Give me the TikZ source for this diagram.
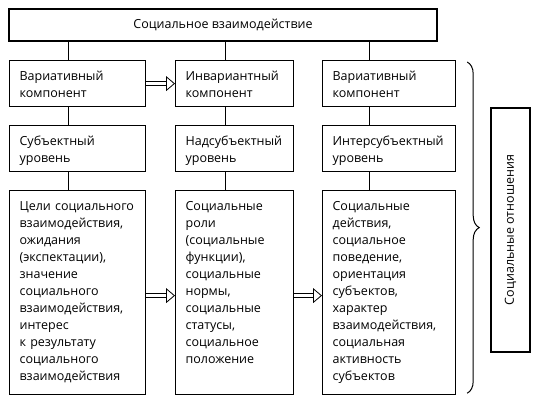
\documentclass[tikz,border=0pt]{standalone}
\usepackage{fontspec}
\setmainfont{Open Sans}
\usetikzlibrary{positioning}
\usetikzlibrary{arrows.meta}
\usetikzlibrary{decorations.pathreplacing}
\tikzset{
  box/.style={rectangle, draw=black, line width=1.2pt, anchor=north west, align=left, inner xsep=10pt, inner ysep=4pt, text height=16pt},
  shortbox/.style={box, text depth=22pt},
  tallbox/.style={box, text depth=180pt},
  wide/.style={double, double distance=3.5pt, line width=0.8pt, -{Triangle[open, length=9pt, width=15pt, line width=0.8pt]}},
  brace/.style={decorate, decoration={brace, amplitude=12pt}, line width=1pt}
}
\begin{document}
\begin{tikzpicture}[x=1pt, y=-1pt, font=\fontsize{12.5}{17}\selectfont]
	\useasboundingbox (0,0) rectangle (541,410);
	\node (interact) [rectangle, draw=black, line width=1.2pt, minimum width=428pt, minimum height=32pt] at (223,25) {Социальное взаимодействие};
	% components
	\node (var1) [shortbox, text width=116pt] at (9,60) {Вариативный\\компонент};
	\node (inv) [shortbox, text width=98pt] at (175,60) {Инвариантный\\компонент};
	\node (var2) [shortbox, text width=113pt] at (322,60) {Вариативный\\компонент};
	% levels
	\node (subj) [shortbox, text width=116pt] at (9,125) {Субъектный\\уровень};
	\node (nadsubj) [shortbox, text width=98pt] at (175,125) {Надсубъектный\\уровень};
	\node (intersubj) [shortbox, text width=113pt] at (322,125) {Интерсубъектный\\уровень};
	% contents
	\node (goals) [tallbox, text width=116pt] at (9,190) {Цели социального\\взаимодействия,\\ожидания\\(экспектации),\\значение\\социального\\взаимодействия,\\интерес\\к результату\\социального\\взаимодействия};
	\node (roles) [tallbox, text width=98pt] at (175,190) {Социальные\\роли\\(социальные\\функции),\\социальные\\нормы,\\социальные\\статусы,\\социальное\\положение};
	\node (actions) [tallbox, text width=113pt] at (322,190) {Социальные\\действия,\\социальное\\поведение,\\ориентация\\субъектов,\\характер\\взаимодействия,\\социальная\\активность\\субъектов};
	\node (relations) [rectangle, draw=black, line width=1.2pt, rotate=90, minimum width=244pt, minimum height=39pt] at (510.5,230) {Социальные отношения};
	%lines
	\foreach \a/\b/\s in {interact/var1/-9, var1/subj/-9, subj/goals/-9, interact/inv/-9, inv/nadsubj/-9, nadsubj/roles/-9, interact/var2/-20, var2/intersubj/-20, intersubj/actions/-20}
		\draw [line width=1pt] ([xshift=\s pt]\b.north) -- ([xshift=\s pt]\b.north |- \a.south);
	\draw [wide] (var1.east) -- (inv.west);
	\draw [wide] ([yshift=-3pt]goals.east) -- ([yshift=-3pt]roles.west);
	\draw [wide] ([yshift=-3pt]roles.east) -- ([yshift=-3pt]actions.west);
	\draw [brace] ([xshift=11pt,yshift=-2pt]var2.north east) -- ([xshift=11pt,yshift=2pt]actions.south east);
\end{tikzpicture}
\end{document}
